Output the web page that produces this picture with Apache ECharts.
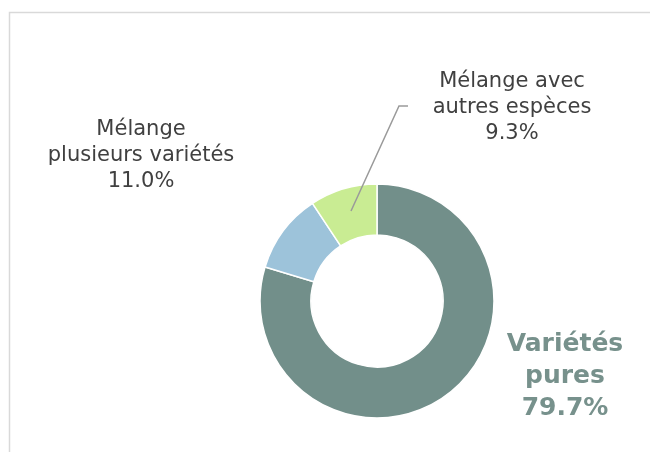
<!DOCTYPE html>
<html>
<head>
<meta charset="utf-8">
<script src="https://cdn.jsdelivr.net/npm/echarts@6/dist/echarts.min.js"></script>
<style>
  html, body { margin: 0; padding: 0; background: #fff; }
  #chart { width: 650px; height: 452px; }
</style>
</head>
<body>
<div id="chart"></div>
<script type="text/javascript">
  // data
  var names = ['Variétés pures', 'Mélange plusieurs variétés', 'Mélange avec autres espèces'];
  var labelNames = ['Variétés\npures', 'Mélange\nplusieurs variétés', 'Mélange avec\nautres espèces'];
  var values = [79.7, 11.0, 9.3];
  var colors = ['#728f8a', '#9dc3da', '#c9ec93'];

  // where each label block sits (center)
  var labelPos = [[565, 376], [141, 156], [512, 108]];

  var chart = echarts.init(document.getElementById('chart'));

  var data = [];
  for (var i = 0; i < values.length; i++) {
    var bold = (i === 0);
    data.push({
      name: names[i],
      value: values[i],
      itemStyle: { color: colors[i] },
      label: {
        formatter: labelNames[i] + '\n' + values[i].toFixed(1) + '%',
        fontSize: bold ? 25 : 21,
        lineHeight: bold ? 32 : 26,
        fontWeight: bold ? 'bold' : 'normal',
        color: bold ? '#77918c' : '#404040'
      }
    });
  }

  var option = {
    animation: false,
    graphic: [
      // frame
      { type: 'polyline', silent: true, shape: { points: [[9.5, 460], [9.5, 12.5], [660, 12.5]] },
        style: { stroke: '#d9d9d9', lineWidth: 1.5, fill: null } },
      // leader line for the small green slice, drawn over the ring
      { type: 'polyline', silent: true, z: 100, shape: { points: [[351, 211], [399, 106], [408, 106]] },
        style: { stroke: '#9a9a9a', lineWidth: 1.5, fill: null } }
    ],
    series: [
      {
        type: 'pie',
        center: [377, 301],
        radius: [66, 117],
        startAngle: 90,
        clockwise: true,
        itemStyle: { borderColor: '#fff', borderWidth: 1.5 },
        label: {
          show: true,
          position: 'outside',
          fontFamily: 'DejaVu Sans',
          align: 'center'
        },
        labelLine: { show: false },
        labelLayout: function (params) {
          var p = labelPos[params.dataIndex];
          return { x: p[0], y: p[1], align: 'center', verticalAlign: 'middle' };
        },
        data: data
      }
    ]
  };
  chart.setOption(option);
</script>
</body>
</html>
